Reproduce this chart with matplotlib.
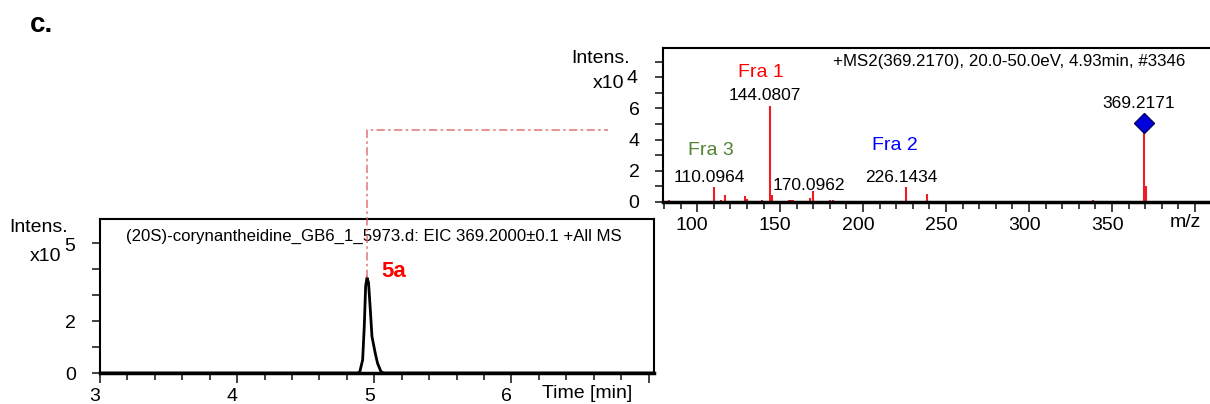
import numpy as np
import matplotlib.pyplot as plt
import matplotlib.transforms as mtransforms
from matplotlib.lines import Line2D
from matplotlib.ticker import MultipleLocator

plt.rcParams['font.family'] = ['Liberation Sans', 'DejaVu Sans']
plt.rcParams['font.size'] = 14

# MS2 spectrum, intensity in x10^4
ms_mz = [82.9, 110.1, 114.6, 116.6, 128.8, 130.1, 139.1, 144.08, 145.4, 155.4, 156.6,
         157.8, 167.8, 170.1, 180.3, 182.1, 206.3, 226.14, 238.6, 338.7, 369.22, 370.2]
ms_int = [0.15, 0.95, 0.15, 0.43, 0.40, 0.20, 0.10, 6.17, 0.47, 0.10, 0.15,
          0.10, 0.25, 0.72, 0.10, 0.10, 0.07, 0.98, 0.49, 0.12, 5.04, 1.00]

label_mz = [110.0964, 144.0807, 170.0962, 226.1434, 369.2171]
label_int = [0.95, 6.17, 0.72, 0.98, 5.04]

frag_names = ["Fra 3", "Fra 1", "Fra 2"]
frag_mz = [110.0964, 144.0807, 226.1434]
frag_int = [0.95, 6.17, 0.98]
frag_colors = ["#548235", "#ff0000", "#0000ff"]

precursor_mz = 369.2171
precursor_int = 5.04

# EIC chromatogram, intensity in x10^5
eic_time = [3.0, 4.87, 4.893, 4.915, 4.927, 4.937, 4.947, 4.958, 4.971, 4.983,
            5.007, 5.024, 5.049, 5.07, 7.05]
eic_int = [0, 0, 0.02, 0.5, 1.8, 3.35, 3.67, 3.48, 2.44, 1.41,
           0.76, 0.37, 0.05, 0, 0]


def style_ticks(ax, fig):
    ax.tick_params(axis='both', which='both', direction='out', width=1.3, color='#333333')
    ax.tick_params(axis='y', which='both', length=6, pad=11)
    ax.tick_params(axis='x', which='major', length=7, pad=4)
    ax.tick_params(axis='x', which='minor', length=5)
    shift = mtransforms.ScaledTranslation(-5 / 100, 0, fig.dpi_scale_trans)
    for lab in ax.get_xticklabels():
        lab.set_transform(lab.get_transform() + shift)


fig = plt.figure(figsize=(12.1, 4.04), dpi=100)

# --- MS2 spectrum ---
ax1 = fig.add_axes([0.548, 0.5, 0.452, 0.381])
ax1.vlines(ms_mz, 0, ms_int, color='#ee1c25', linewidth=1.5)
ax1.plot([precursor_mz], [precursor_int], marker='D', markersize=10,
         color='#0000dd', markeredgecolor='#000066', markeredgewidth=1, zorder=5)
label_dy = [2, 3, -2, 2, 12]
for mz, h, dy in zip(label_mz, label_int, label_dy):
    ax1.annotate(f"{mz:.4f}", (mz, h), xytext=(-5, dy), textcoords='offset pixels',
                 ha='center', va='bottom', fontsize=12.5)
frag_off = [(-3, 37), (-9, 33), (-12, 41)]
for name, mz, h, c, off in zip(frag_names, frag_mz, frag_int, frag_colors, frag_off):
    ax1.annotate(name, (mz, h), xytext=off, textcoords='offset pixels',
                 ha='center', va='center', color=c, fontsize=14)

ax1.set_xlim(79.5, 409)
ax1.set_ylim(0, 9.87)
ax1.set_xticks([100, 150, 200, 250, 300, 350, 400])
ax1.set_xticklabels(['100', '150', '200', '250', '300', '350', ''])
ax1.xaxis.set_minor_locator(MultipleLocator(10))
ax1.set_yticks(range(0, 10))
ax1.set_yticklabels(['0', '', '2', '', '4', '', '6', '', '', ''])
ax1.spines['right'].set_visible(False)
ax1.spines['left'].set_linewidth(1.5)
ax1.spines['top'].set_linewidth(1.5)
ax1.spines['bottom'].set_linewidth(2.5)
style_ticks(ax1, fig)
ax1.text(0.955, 0.916, "+MS2(369.2170), 20.0-50.0eV, 4.93min, #3346",
         transform=ax1.transAxes, ha='right', va='center', fontsize=12.2)
ax1.text(-0.06, 0.935, "Intens.", transform=ax1.transAxes, ha='right', va='center')
ax1.text(-0.071, 0.77, "x10", transform=ax1.transAxes, ha='right', va='center')
ax1.text(-0.047, 0.80, "4", transform=ax1.transAxes, ha='right', va='center')
trans1 = mtransforms.blended_transform_factory(ax1.transData, ax1.transAxes)
ax1.text(394, -0.13, "m/z", transform=trans1, ha='center', va='center')

# --- EIC chromatogram ---
ax2 = fig.add_axes([0.0826, 0.0767, 0.458, 0.381])
ax2.plot(eic_time, eic_int, color='black', linewidth=2)
ipk = int(np.argmax(eic_int))
ax2.annotate("5a", (eic_time[ipk], eic_int[ipk]), xytext=(27, 6), textcoords='offset pixels',
             ha='center', va='center', color='#ff0000', fontsize=16, fontweight='bold')
ax2.set_xlim(3.0, 7.04)
ax2.set_ylim(0, 5.93)
ax2.set_xticks([3, 4, 5, 6, 7])
ax2.set_xticklabels(['3', '4', '5', '6', ''])
ax2.xaxis.set_minor_locator(MultipleLocator(0.2))
ax2.set_yticks(range(0, 6))
ax2.set_yticklabels(['0', '', '2', '', '', ''])
for s in ['left', 'top', 'right']:
    ax2.spines[s].set_linewidth(1.5)
ax2.spines['bottom'].set_linewidth(2.5)
style_ticks(ax2, fig)
ax2.text(0.495, 0.89, "(20S)-corynantheidine_GB6_1_5973.d: EIC 369.2000\u00b10.1 +All MS",
         transform=ax2.transAxes, ha='center', va='center', fontsize=12.1)
ax2.text(-0.058, 0.945, "Intens.", transform=ax2.transAxes, ha='right', va='center')
ax2.text(-0.069, 0.76, "x10", transform=ax2.transAxes, ha='right', va='center')
ax2.text(-0.045, 0.82, "5", transform=ax2.transAxes, ha='right', va='center')
trans2 = mtransforms.blended_transform_factory(ax2.transData, ax2.transAxes)
ax2.text(6.55, -0.13, "Time [min]", transform=trans2, ha='center', va='center')

# connector from the EIC peak to the MS2 spectrum
p_peak = ax2.transData.transform((eic_time[ipk], eic_int[ipk]))
y_corner = ax1.transData.transform((0, 4.6))[1]
x_end = ax1.transAxes.transform((-0.1, 0))[0]
pts = np.array([[p_peak[0], p_peak[1]], [p_peak[0], y_corner], [x_end, y_corner]])
pts = fig.transFigure.inverted().transform(pts)
fig.add_artist(Line2D(pts[:, 0], pts[:, 1], transform=fig.transFigure, color='#e06060',
                      linewidth=1.2, alpha=0.8, linestyle=(0, (5, 2, 1.5, 2))))

fig.text(0.034, 0.938, "c.", ha='center', va='center', fontsize=20, fontweight='bold')

fig.savefig("out.png", dpi=100)
